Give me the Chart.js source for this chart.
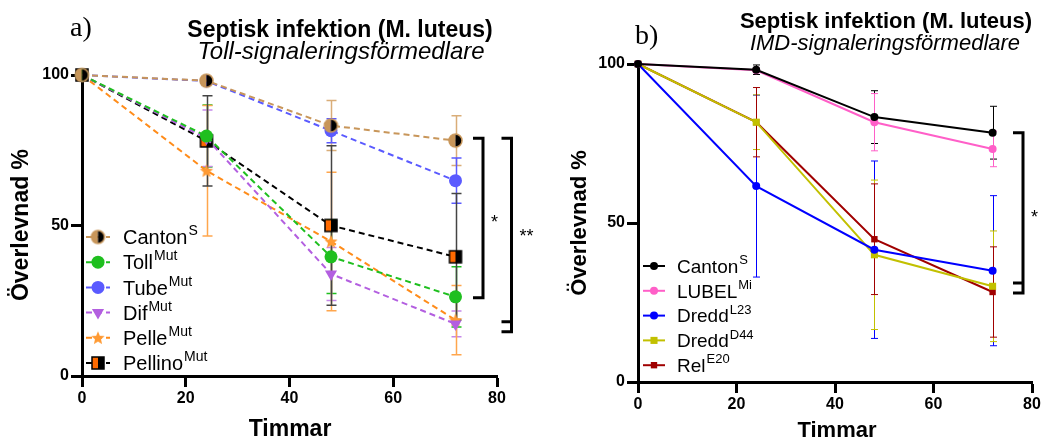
<!DOCTYPE html>
<html><head><meta charset="utf-8">
<script src="https://cdn.jsdelivr.net/npm/chart.js@4"></script>
<style>body{margin:0;background:#fff}#wrap{position:relative;width:1044px;height:438px;background:#fff}canvas{position:absolute;top:0}</style>
</head><body>
<div id="wrap">
<canvas id="c1" width="545" height="438" style="left:0"></canvas>
<canvas id="c2" width="499" height="438" style="left:545px"></canvas>
</div>
<script>
// ---------- DATA ----------
const hours = [0, 24, 48, 72];
const xTicks = [0, 20, 40, 60, 80];
const yTicks = [0, 50, 100];

// Panel a) Toll pathway
const cantonA  = [100, 98.1, 83.2, 78.2];
const cantonAErr = [0, 0, 8.3, 8.3];
const tollA    = [100, 79.7, 39.6, 26.3];
const tollAErr = [0, 10.3, 12.2, 10];
const tubeA    = [100, 98.0, 81.5, 64.9];
const tubeAErr = [0, 0, 4, 7.5];
const difA     = [100, 79.0, 33.9, 17.3];
const difAErr  = [0, 9.4, 8.8, 4.3];
const pelleA   = [100, 68.2, 44.7, 18.6];
const pelleAErr = [0, 21.7, 23, 11.5];
const pellinoA = [100, 78.1, 50.0, 39.6];
const pellinoAErr = [0, 15, 26.5, 21];
const legendNamesA = ['Canton', 'Toll', 'Tube', 'Dif', 'Pelle', 'Pellino'];
const legendSupA   = ['S', 'Mut', 'Mut', 'Mut', 'Mut', 'Mut'];
const bracketsA = [[79, 26, null, '*'], [79, 14.7, 18, '**']];

// Panel b) IMD pathway
const cantonB  = [100, 98.2, 83.3, 78.4];
const cantonBErr = [0, 1.5, 8.3, 8.3];
const lubelB   = [100, 98.0, 81.7, 73.3];
const lubelBErr = [0, 0, 9, 5.6];
const dreddL23B = [100, 61.6, 41.6, 35.0];
const dreddL23BErr = [0, 28.6, 27.9, 23.6];
const dreddD44B = [100, 81.7, 40.0, 30.1];
const dreddD44BErr = [0, 8.6, 23.5, 17.4];
const relB     = [100, 81.7, 44.9, 28.3];
const relBErr  = [0, 10.9, 17.4, 14.2];
const legendNamesB = ['Canton', 'LUBEL', 'Dredd', 'Dredd', 'Rel'];
const legendSupB   = ['S', 'Mi', 'L23', 'D44', 'E20'];
const bracketsB = [[78.4, 28, 31.1, '*']];

const titleMain = 'Septisk infektion (M. luteus)';
const subA = 'Toll-signaleringsförmedlare';
const subB = 'IMD-signaleringsförmedlare';
const yTitle = 'Överlevnad %';
const xTitle = 'Timmar';

// ---------- marker images ----------
function halfMarker(shape, r, leftC, rightC, strokeC) {
  const s = Math.ceil(2 * r + 4), c = document.createElement('canvas');
  c.width = s; c.height = s;
  const g = c.getContext('2d'), m = s / 2;
  if (shape === 'circle') {
    g.fillStyle = leftC; g.beginPath(); g.arc(m, m, r, Math.PI / 2, 3 * Math.PI / 2); g.closePath(); g.fill();
    g.fillStyle = rightC; g.beginPath(); g.arc(m, m, r, -Math.PI / 2, Math.PI / 2); g.closePath(); g.fill();
    g.strokeStyle = strokeC; g.lineWidth = 1.5; g.beginPath(); g.arc(m, m, r, 0, 2 * Math.PI); g.stroke();
  } else {
    g.fillStyle = leftC; g.fillRect(m - r, m - r, r, 2 * r);
    g.fillStyle = rightC; g.fillRect(m, m - r, r, 2 * r);
    g.strokeStyle = strokeC; g.lineWidth = 1.5; g.strokeRect(m - r, m - r, 2 * r, 2 * r);
  }
  return c;
}
function starMarker(r, color) {
  const s = Math.ceil(2 * r + 4), c = document.createElement('canvas');
  c.width = s; c.height = s;
  const g = c.getContext('2d'), m = s / 2;
  g.fillStyle = color; g.beginPath();
  for (let i = 0; i < 10; i++) {
    const a = -Math.PI / 2 + i * Math.PI / 5, rr = i % 2 ? r * 0.45 : r;
    g.lineTo(m + rr * Math.cos(a), m + rr * Math.sin(a) + 0.5);
  }
  g.closePath(); g.fill();
  return c;
}
const mkCanton = halfMarker('circle', 6.5, '#c8965a', '#000000', '#c8965a');
const mkPellino = halfMarker('rect', 6, '#ff6a00', '#000000', '#000000');
const mkStar = starMarker(7, '#ff9a33');

const pts = arr => hours.map((h, i) => ({ x: h, y: arr[i] }));

// ---------- plugins ----------
const F = "'Liberation Sans', Arial, sans-serif";
const errorBars = {
  id: 'errorBars',
  beforeDatasetsDraw(chart, args, opts) {
    const { ctx, scales: { x, y } } = chart;
    chart.data.datasets.forEach(ds => {
      if (!ds.err) return;
      ctx.save();
      ctx.strokeStyle = ds.errColor || ds.borderColor;
      ctx.lineWidth = opts.width;
      ds.data.forEach((p, i) => {
        const e = ds.err[i]; if (!e) return;
        const px = Math.round(x.getPixelForValue(p.x)) + 0.5;
        const t = y.getPixelForValue(p.y + e), b = y.getPixelForValue(p.y - e);
        ctx.beginPath();
        ctx.moveTo(px, t); ctx.lineTo(px, b);
        ctx.moveTo(px - opts.cap, t); ctx.lineTo(px + opts.cap, t);
        ctx.moveTo(px - opts.cap, b); ctx.lineTo(px + opts.cap, b);
        ctx.stroke();
      });
      ctx.restore();
    });
  }
};

function drawMarker(ctx, ds, x, y) {
  ctx.save();
  ctx.fillStyle = ds.pointBackgroundColor;
  ctx.strokeStyle = ds.pointBorderColor || ds.pointBackgroundColor;
  ctx.lineWidth = ds.pointBorderWidth || 0;
  Chart.helpers.drawPoint(ctx, { pointStyle: ds.pointStyle, radius: ds.pointRadius, rotation: ds.pointRotation || 0, borderWidth: ds.pointBorderWidth || 0 }, x, y);
  ctx.restore();
}

const decor = {
  id: 'decor',
  afterDraw(chart, args, o) {
    const { ctx, scales: { x, y } } = chart;
    ctx.save();
    ctx.fillStyle = '#000';
    // panel letter
    ctx.font = o.letterSize + "px 'Liberation Serif', 'Times New Roman', serif";
    ctx.textAlign = 'left'; ctx.textBaseline = 'alphabetic';
    ctx.fillText(o.letter, o.letterX, o.letterY);
    // titles
    ctx.textAlign = 'center';
    ctx.font = 'bold ' + o.titleSize + 'px ' + F;
    ctx.fillText(titleMain, o.titleX, o.titleY);
    ctx.font = 'italic ' + o.subSize + 'px ' + F;
    ctx.fillText(o.sub, o.subX, o.subY);
    // axis titles
    ctx.font = 'bold ' + o.axisSize + 'px ' + F;
    ctx.fillText(xTitle, o.xtX, o.xtY);
    ctx.save();
    ctx.translate(o.ytX, o.ytY); ctx.rotate(-Math.PI / 2);
    ctx.textBaseline = 'middle';
    ctx.fillText(yTitle, 0, 0);
    ctx.restore();
    // brackets
    ctx.strokeStyle = '#000'; ctx.lineWidth = 3;
    o.brackets.forEach((b, k) => {
      const [top, bot, step, label] = b;
      const bx = o.bracketX[k], yt = y.getPixelForValue(top), yb = y.getPixelForValue(bot);
      ctx.beginPath();
      ctx.moveTo(bx - 10, yt); ctx.lineTo(bx, yt); ctx.lineTo(bx, yb); ctx.lineTo(bx - 10, yb);
      if (step != null) { const ys = y.getPixelForValue(step); ctx.moveTo(bx - 10, ys); ctx.lineTo(bx + 1.5, ys); }
      ctx.stroke();
      ctx.font = '18px ' + F; ctx.textAlign = 'left'; ctx.textBaseline = 'alphabetic';
      ctx.fillText(label, bx + o.starDx, (yt + yb) / 2 + o.starDy[k]);
    });
    // legend
    const ds = chart.data.datasets;
    o.names.forEach((n, i) => {
      const ly = o.legY + i * o.legGap;
      ctx.save();
      ctx.strokeStyle = ds[i].borderColor; ctx.lineWidth = 2;
      ctx.setLineDash(ds[i].borderDash || []);
      ctx.beginPath(); ctx.moveTo(o.legX1, ly); ctx.lineTo(o.legX2, ly); ctx.stroke();
      ctx.restore();
      drawMarker(ctx, ds[i], (o.legX1 + o.legX2) / 2, ly);
      ctx.fillStyle = '#000'; ctx.textAlign = 'left'; ctx.textBaseline = 'alphabetic';
      ctx.font = o.legSize + 'px ' + F;
      ctx.fillText(n, o.legTX, ly + o.legSize * 0.36);
      const w = ctx.measureText(n).width;
      ctx.font = Math.round(o.legSize * 0.68) + 'px ' + F;
      ctx.fillText(o.sups[i], o.legTX + w + 1, ly + o.legSize * 0.36 - o.legSize * 0.45);
    });
    ctx.restore();
  }
};

function scalesCfg(yW, xH) {
  const common = {
    type: 'linear', min: 0,
    grid: { display: true, drawOnChartArea: false, drawTicks: true, tickLength: 11, tickWidth: 3, tickColor: '#000' },
    border: { display: true, width: 3, color: '#000' },
    ticks: { color: '#000', font: { family: F, size: 16, weight: 'bold' } }
  };
  return {
    x: Object.assign({}, common, { max: 80, afterBuildTicks: s => { s.ticks = xTicks.map(v => ({ value: v })); }, afterFit: s => { s.height = xH; }, ticks: Object.assign({}, common.ticks, { padding: 2 }) }),
    y: Object.assign({}, common, { max: 100, afterBuildTicks: s => { s.ticks = yTicks.map(v => ({ value: v })); }, afterFit: s => { s.width = yW; }, ticks: Object.assign({}, common.ticks, { padding: 2 }) })
  };
}

const dashed = [6, 4];
const dsA = [
  { data: pts(cantonA), err: cantonAErr, borderColor: '#c8965a', errColor: '#d9ad78', pointStyle: mkCanton, pointRadius: 7, borderDash: dashed },
  { data: pts(tollA), err: tollAErr, borderColor: '#1fbf1f', pointBackgroundColor: '#1fbf1f', pointStyle: 'circle', pointRadius: 6.5, borderDash: dashed },
  { data: pts(tubeA), err: tubeAErr, borderColor: '#5a5aff', pointBackgroundColor: '#5a5aff', pointStyle: 'circle', pointRadius: 6.5, borderDash: dashed },
  { data: pts(difA), err: difAErr, borderColor: '#b35fe0', errColor: '#c588ea', pointBackgroundColor: '#b35fe0', pointStyle: 'triangle', pointRotation: 180, pointRadius: 7, borderDash: dashed },
  { data: pts(pelleA), err: pelleAErr, borderColor: '#ff8c1a', errColor: '#ffa64d', pointStyle: mkStar, pointRadius: 7, borderDash: dashed },
  { data: pts(pellinoA), err: pellinoAErr, borderColor: '#000000', errColor: '#444444', pointStyle: mkPellino, pointRadius: 7, borderDash: dashed }
].map(d => Object.assign({ borderWidth: 2, fill: false, clip: false, pointBorderWidth: 0, pointHoverRadius: d.pointRadius, tension: 0 }, d));

const dsB = [
  { data: pts(cantonB), err: cantonBErr, borderColor: '#000000', pointBackgroundColor: '#000000', pointStyle: 'circle', pointRadius: 4 },
  { data: pts(lubelB), err: lubelBErr, borderColor: '#ff5fc8', pointBackgroundColor: '#ff5fc8', pointStyle: 'circle', pointRadius: 4 },
  { data: pts(dreddL23B), err: dreddL23BErr, borderColor: '#0000ff', pointBackgroundColor: '#0000ff', pointStyle: 'circle', pointRadius: 4 },
  { data: pts(dreddD44B), err: dreddD44BErr, borderColor: '#c2c000', pointBackgroundColor: '#c2c000', pointStyle: 'rect', pointRadius: 5 },
  { data: pts(relB), err: relBErr, borderColor: '#a00000', pointBackgroundColor: '#a00000', pointStyle: 'rect', pointRadius: 4.5 }
].map(d => Object.assign({ borderWidth: 2, fill: false, clip: false, pointBorderWidth: 0, pointHoverRadius: d.pointRadius, tension: 0 }, d));

new Chart(document.getElementById('c1'), {
  type: 'line',
  data: { datasets: dsA },
  plugins: [errorBars, decor],
  options: {
    responsive: false, animation: false, devicePixelRatio: 1,
    layout: { padding: { left: 0, top: 75, right: 48, bottom: 0 } },
    scales: scalesCfg(82, 62),
    plugins: {
      legend: { display: false }, tooltip: { enabled: false },
      errorBars: { width: 1.5, cap: 5 },
      decor: {
        letter: 'a)', letterSize: 28, letterX: 70, letterY: 36,
        titleSize: 23, subSize: 24, titleX: 340, titleY: 37, sub: subA, subX: 341, subY: 59,
        axisSize: 23, xtX: 290, xtY: 436, ytX: 22, ytY: 225,
        brackets: bracketsA, bracketX: [483, 511.5], starDx: 8, starDy: [10, 7],
        names: legendNamesA, sups: legendSupA, legX1: 86, legX2: 110, legTX: 123, legY: 237, legGap: 25.2, legSize: 20
      }
    }
  }
});

new Chart(document.getElementById('c2'), {
  type: 'line',
  data: { datasets: dsB },
  plugins: [errorBars, decor],
  options: {
    responsive: false, animation: false, devicePixelRatio: 1,
    layout: { padding: { left: 0, top: 64, right: 12, bottom: 0 } },
    scales: scalesCfg(93, 56),
    plugins: {
      legend: { display: false }, tooltip: { enabled: false },
      errorBars: { width: 1, cap: 3.5 },
      decor: {
        letter: 'b)', letterSize: 28, letterX: 90, letterY: 44,
        titleSize: 22, subSize: 22, titleX: 341, titleY: 28, sub: subB, subX: 340, subY: 50,
        axisSize: 22, xtX: 292, xtY: 437, ytX: 35, ytY: 223,
        brackets: bracketsB, bracketX: [478], starDx: 8, starDy: [10],
        names: legendNamesB, sups: legendSupB, legX1: 98, legX2: 120, legTX: 132, legY: 266, legGap: 24.8, legSize: 19
      }
    }
  }
});
</script>
</body></html>
